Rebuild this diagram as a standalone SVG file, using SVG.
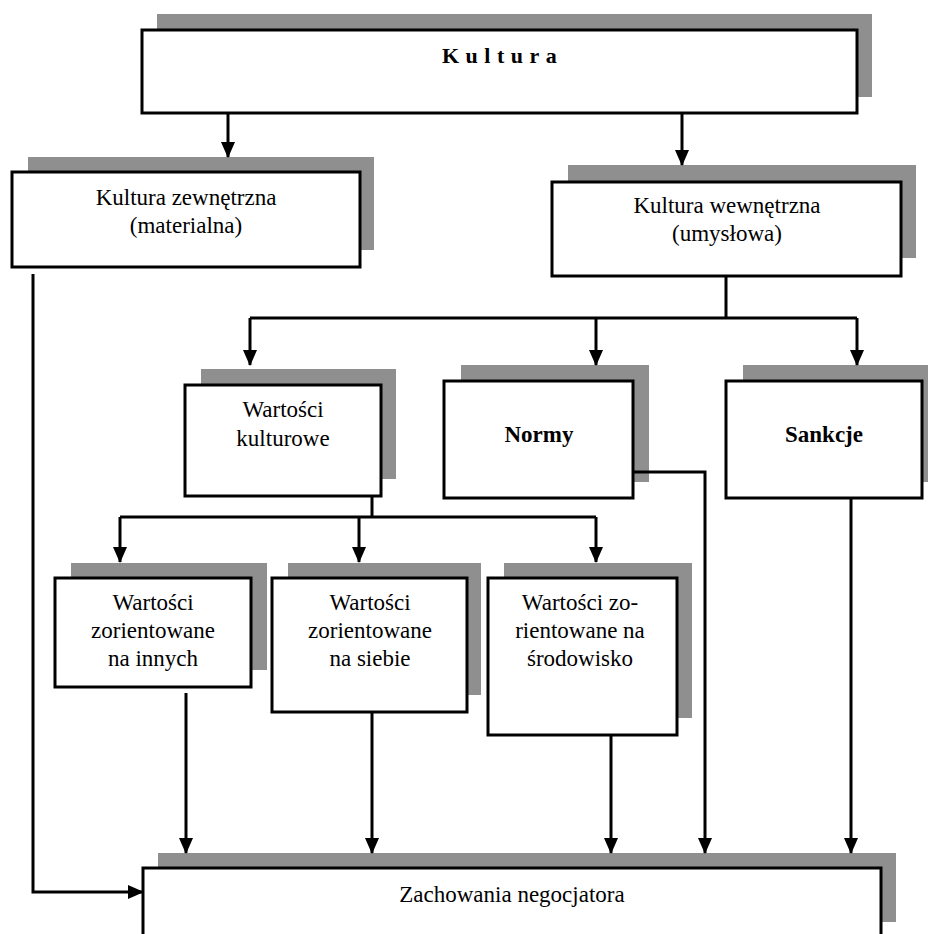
<svg xmlns="http://www.w3.org/2000/svg" width="928" height="934" viewBox="0 0 928 934">
<style>
.sh{fill:#8f8f8f}
.bx{fill:#fff;stroke:#000;stroke-width:3}
.t{font-family:"Liberation Serif","Times New Roman",serif;font-size:23px;fill:#000;text-anchor:middle}
.b{font-weight:bold}
.c{fill:none;stroke:#000;stroke-width:3}
</style>
<defs>
<marker id="ah" markerUnits="userSpaceOnUse" viewBox="0 0 16 14" refX="15" refY="7" markerWidth="16" markerHeight="14" orient="auto">
<path d="M0,0 L16,7 L0,14 z" fill="#000"/>
</marker>
</defs>
<rect width="928" height="934" fill="#fff"/>

<g id="kultura">
<rect class="sh" x="157" y="14" width="715" height="83"/>
<rect class="bx" x="142" y="30" width="715" height="83"/>
<text class="t b" x="442" y="63" style="text-anchor:start;font-size:22px;letter-spacing:6.5px">Kultura</text>
</g>

<g id="kultura-zewnetrzna">
<rect class="sh" x="28" y="157" width="346" height="93"/>
<rect class="bx" x="12" y="172" width="348" height="95"/>
<text class="t" x="186" y="205">Kultura zewnętrzna</text>
<text class="t" x="186" y="233">(materialna)</text>
</g>

<g id="kultura-wewnetrzna">
<rect class="sh" x="568" y="165" width="348" height="93"/>
<rect class="bx" x="552" y="182" width="349" height="94"/>
<text class="t" x="727" y="213">Kultura wewnętrzna</text>
<text class="t" x="727" y="241">(umysłowa)</text>
</g>

<g id="wartosci-kulturowe">
<rect class="sh" x="201" y="369" width="195" height="110"/>
<rect class="bx" x="185" y="385" width="196" height="111"/>
<text class="t" x="283" y="417">Wartości</text>
<text class="t" x="283" y="446">kulturowe</text>
</g>

<g id="normy">
<rect class="sh" x="461" y="365" width="188" height="117"/>
<rect class="bx" x="444" y="381" width="189" height="117"/>
<text class="t b" x="539" y="442">Normy</text>
</g>

<g id="sankcje">
<rect class="sh" x="743" y="365" width="190" height="117"/>
<rect class="bx" x="726" y="381" width="196" height="117"/>
<text class="t b" x="824" y="442">Sankcje</text>
</g>

<g id="wartosci-innych">
<rect class="sh" x="71" y="563" width="196" height="107"/>
<rect class="bx" x="55" y="578" width="196" height="109"/>
<text class="t" x="153" y="610">Wartości</text>
<text class="t" x="153" y="638">zorientowane</text>
<text class="t" x="153" y="666">na innych</text>
</g>

<g id="wartosci-siebie">
<rect class="sh" x="288" y="563" width="193" height="132"/>
<rect class="bx" x="272" y="578" width="195" height="134"/>
<text class="t" x="370" y="610">Wartości</text>
<text class="t" x="370" y="638">zorientowane</text>
<text class="t" x="370" y="666">na siebie</text>
</g>

<g id="wartosci-srodowisko">
<rect class="sh" x="504" y="563" width="188" height="155"/>
<rect class="bx" x="488" y="578" width="189" height="157"/>
<text class="t" x="580" y="610">Wartości zo-</text>
<text class="t" x="580" y="638">rientowane na</text>
<text class="t" x="580" y="666">środowisko</text>
</g>

<g id="zachowania">
<rect class="sh" x="158" y="853" width="738" height="69"/>
<rect class="bx" x="143" y="868" width="738" height="82"/>
<text class="t" x="512" y="902">Zachowania negocjatora</text>
</g>

<g id="connectors">
<path class="c" d="M228,113 V157" marker-end="url(#ah)"/>
<path class="c" d="M682,113 V165" marker-end="url(#ah)"/>
<path class="c" d="M726,276 V318"/>
<path class="c" d="M250,318 H857"/>
<path class="c" d="M250,318 V365" marker-end="url(#ah)"/>
<path class="c" d="M596,318 V365" marker-end="url(#ah)"/>
<path class="c" d="M857,318 V365" marker-end="url(#ah)"/>
<path class="c" d="M372,496 V517"/>
<path class="c" d="M120,517 H596"/>
<path class="c" d="M120,517 V562" marker-end="url(#ah)"/>
<path class="c" d="M359,517 V562" marker-end="url(#ah)"/>
<path class="c" d="M596,517 V562" marker-end="url(#ah)"/>
<path class="c" d="M633,472 H705 V853" marker-end="url(#ah)"/>
<path class="c" d="M851,498 V853" marker-end="url(#ah)"/>
<path class="c" d="M186,693 V853" marker-end="url(#ah)"/>
<path class="c" d="M372,712 V853" marker-end="url(#ah)"/>
<path class="c" d="M611,735 V853" marker-end="url(#ah)"/>
<path class="c" d="M33,274 V892 H143" marker-end="url(#ah)"/>
</g>
</svg>
